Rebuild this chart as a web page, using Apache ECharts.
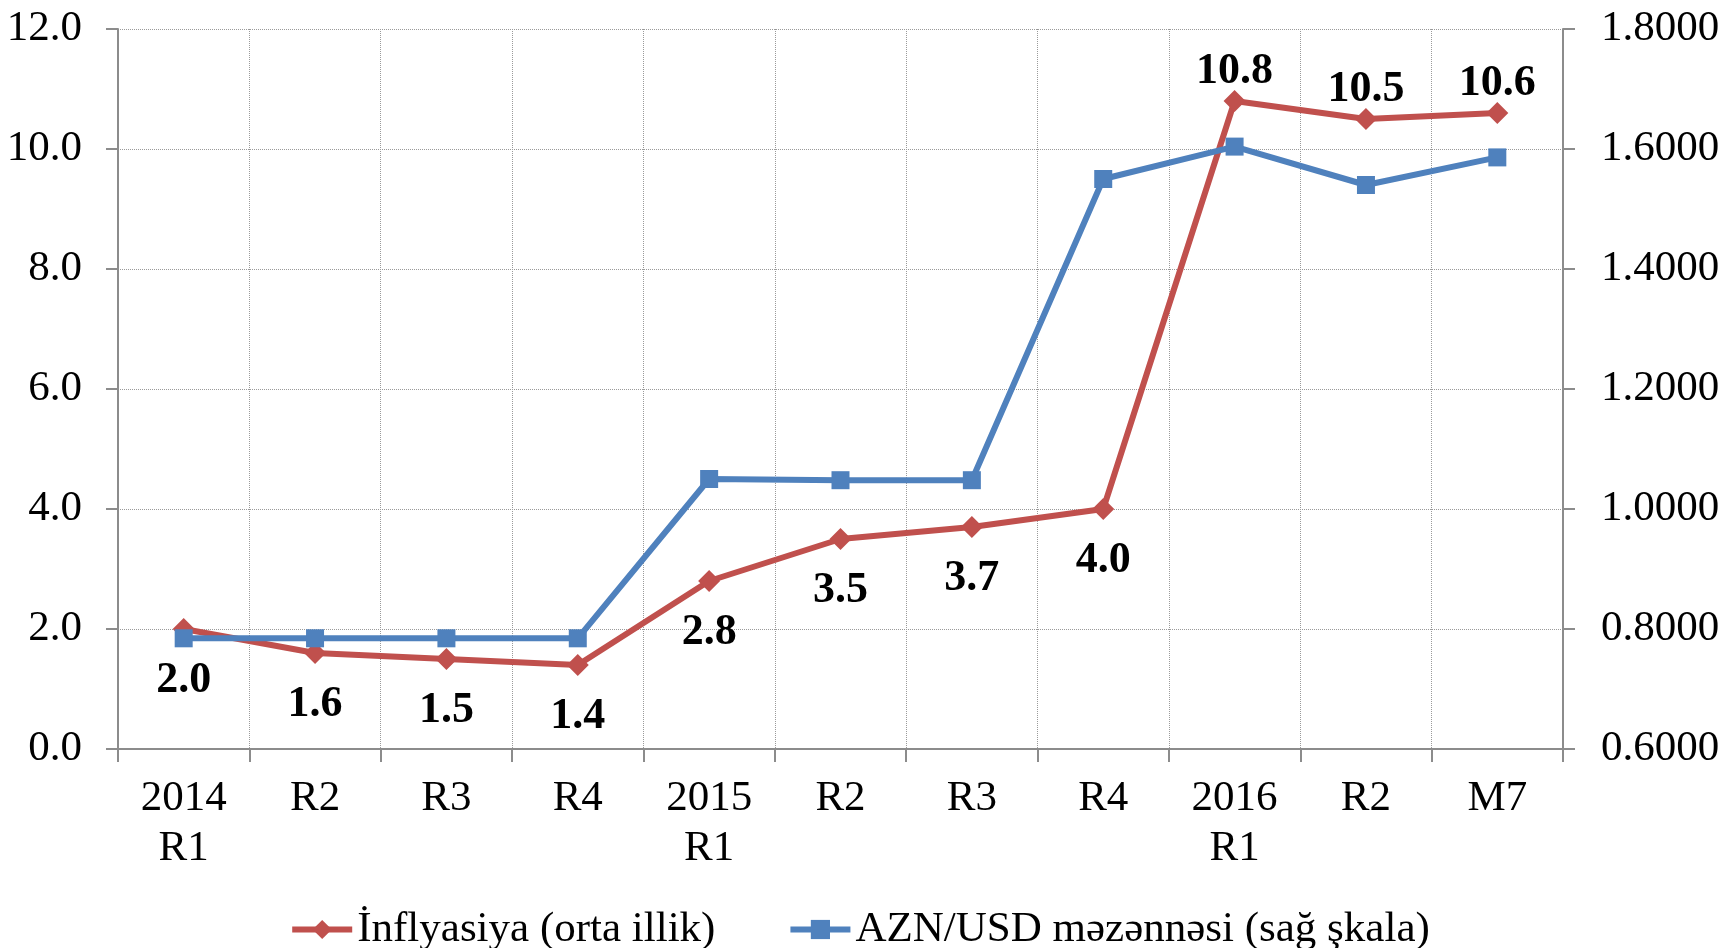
<!DOCTYPE html>
<html>
<head>
<meta charset="utf-8">
<script src="https://cdn.jsdelivr.net/npm/echarts@6/dist/echarts.min.js"></script>
<style>
  html, body { margin: 0; padding: 0; background: #fff; }
  #chart { width: 1719px; height: 948px; }
</style>
</head>
<body>
<div id="chart"></div>
<script>
// kateqoriyalar (rüblər)
const categories = ['2014\nR1', 'R2', 'R3', 'R4', '2015\nR1', 'R2', 'R3', 'R4', '2016\nR1', 'R2', 'M7'];
const inflation = [2.0, 1.6, 1.5, 1.4, 2.8, 3.5, 3.7, 4.0, 10.8, 10.5, 10.6];
const aznUsd = [0.7845, 0.7845, 0.7845, 0.7845, 1.0500, 1.0480, 1.0480, 1.5500, 1.6040, 1.5400, 1.5860];
const seriesNames = ['İnflyasiya (orta illik)', 'AZN/USD məzənnəsi (sağ şkala)'];

const font = '"Liberation Serif", "Times New Roman", serif';
const axisColor = '#8c8c8c';
const gridColor = '#9a9a9a';

const myChart = echarts.init(document.getElementById('chart'));

// 2016-dan sonrakı etiketlər yuxarıda, qalanları aşağıda
const inflData = inflation.map((v, i) => ({
  value: v,
  label: i >= 8 ? { position: 'top', distance: -4 } : { position: 'bottom', distance: 19 }
}));

myChart.setOption({
  animation: false,
  textStyle: { fontFamily: font },
  grid: { left: 118, right: 156, top: 29, bottom: 199, outerBoundsMode: 'none', containLabel: false },
  legend: {
    top: 903,
    left: 'center',
    itemWidth: 60,
    itemHeight: 24,
    itemGap: 72,
    lineStyle: { width: 6 },
    textStyle: { fontFamily: font, fontSize: 43, color: '#000' },
    data: seriesNames
  },
  xAxis: {
    type: 'category',
    data: categories,
    boundaryGap: true,
    axisLine: { lineStyle: { color: axisColor, width: 2 } },
    axisTick: { show: true, length: 13, lineStyle: { color: axisColor, width: 2 } },
    axisLabel: { fontFamily: font, fontSize: 43, color: '#000', lineHeight: 50, margin: 25 },
    splitLine: { show: true, lineStyle: { color: gridColor, type: 'dotted', width: 1 } }
  },
  yAxis: [
    {
      type: 'value',
      min: 0,
      max: 12,
      interval: 2,
      axisLine: { show: true, lineStyle: { color: axisColor, width: 2 } },
      axisTick: { show: true, length: 12, lineStyle: { color: axisColor, width: 2 } },
      axisLabel: {
        fontFamily: font, fontSize: 43, color: '#000', margin: 36,
        formatter: v => v.toFixed(1)
      },
      splitLine: { show: true, lineStyle: { color: gridColor, type: 'dotted', width: 1 } }
    },
    {
      type: 'value',
      min: 0.6,
      max: 1.8,
      interval: 0.2,
      axisLine: { show: true, lineStyle: { color: axisColor, width: 2 } },
      axisTick: { show: true, length: 12, lineStyle: { color: axisColor, width: 2 } },
      axisLabel: {
        fontFamily: font, fontSize: 43, color: '#000', margin: 38,
        formatter: v => v.toFixed(4)
      },
      splitLine: { show: false }
    }
  ],
  series: [
    {
      name: seriesNames[0],
      type: 'line',
      yAxisIndex: 0,
      data: inflData,
      symbol: 'diamond',
      symbolSize: 22,
      itemStyle: { color: '#C0504D' },
      lineStyle: { color: '#C0504D', width: 6 },
      label: {
        show: true,
        fontFamily: font,
        fontSize: 44,
        fontWeight: 'bold',
        color: '#000',
        formatter: p => p.value.toFixed(1)
      }
    },
    {
      name: seriesNames[1],
      type: 'line',
      yAxisIndex: 1,
      data: aznUsd,
      symbol: 'rect',
      symbolSize: 18,
      itemStyle: { color: '#4F81BD' },
      lineStyle: { color: '#4F81BD', width: 6 }
    }
  ]
});
</script>
</body>
</html>
